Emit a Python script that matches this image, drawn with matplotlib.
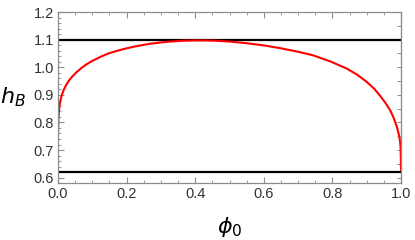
import matplotlib
matplotlib.use('Agg')
import matplotlib.pyplot as plt
from matplotlib.ticker import MultipleLocator

# values
phi0 = [0.0, 0.001, 0.002, 0.004, 0.007, 0.011, 0.017, 0.024, 0.031, 0.042,
        0.055, 0.070, 0.085, 0.10, 0.123, 0.145, 0.171, 0.195, 0.220, 0.245,
        0.268, 0.295, 0.317, 0.34, 0.365, 0.40, 0.43, 0.46, 0.50, 0.55,
        0.60, 0.648, 0.70, 0.744, 0.794, 0.842, 0.872, 0.900, 0.922, 0.940,
        0.955, 0.969, 0.979, 0.988, 0.993, 0.996, 0.998, 0.999, 1.0]
h_B = [0.754, 0.805, 0.830, 0.856, 0.879, 0.899, 0.919, 0.936, 0.950, 0.967,
       0.983, 0.999, 1.012, 1.023, 1.037, 1.049, 1.059, 1.067, 1.074, 1.080,
       1.085, 1.089, 1.092, 1.094, 1.096, 1.097, 1.097, 1.096, 1.093, 1.087,
       1.079, 1.069, 1.056, 1.043, 1.021, 0.995, 0.973, 0.947, 0.922, 0.895,
       0.870, 0.843, 0.815, 0.784, 0.760, 0.742, 0.722, 0.700, 0.628]
h_upper = 1.1
h_lower = 0.6217

xticks = [0.0, 0.2, 0.4, 0.6, 0.8, 1.0]
yticks = [0.6, 0.7, 0.8, 0.9, 1.0, 1.1, 1.2]

plt.rcParams['font.family'] = ['Liberation Sans', 'DejaVu Sans']

fig = plt.figure(figsize=(4.15, 2.4), dpi=100)
ax = fig.add_axes([0.1398, 0.239, 0.8265, 0.711])

ax.axhline(h_upper, color='black', lw=1.6)
ax.axhline(h_lower, color='black', lw=1.6)
ax.plot(phi0, h_B, color='red', lw=1.5, solid_joinstyle='round')

ax.set_xlim(0, 1)
ax.set_ylim(0.582, 1.2)
ax.set_xticks(xticks)
ax.set_xticklabels([f'{t:.1f}' for t in xticks])
ax.set_yticks(yticks)
ax.set_yticklabels([f'{t:.1f}' for t in yticks])
ax.xaxis.set_minor_locator(MultipleLocator(0.05))
ax.yaxis.set_minor_locator(MultipleLocator(0.02))

frame_col = '#8c8c8c'
for s in ax.spines.values():
    s.set_color(frame_col)
    s.set_linewidth(0.9)
ax.tick_params(which='both', direction='in', color=frame_col, top=True, right=False,
               labelsize=10.5, labelcolor='#333333', pad=3)
ax.tick_params(which='major', length=4, width=0.8)
ax.tick_params(which='minor', length=2, width=0.6)

# right side ticks every 0.05 without labels
sec = ax.secondary_yaxis('right')
sec.set_yticks([0.6 + 0.05 * i for i in range(13)])
sec.set_yticklabels([])
sec.spines['right'].set_color(frame_col)
sec.tick_params(direction='in', color=frame_col, length=3, width=0.7)

ax.set_xlabel(r'$\phi_0$', fontsize=16, labelpad=10)
ax.set_ylabel(r'$h_B$', fontsize=16, rotation=0, va='center')
ax.yaxis.set_label_coords(-0.131, 0.5)

fig.savefig('out.png', dpi=100)
